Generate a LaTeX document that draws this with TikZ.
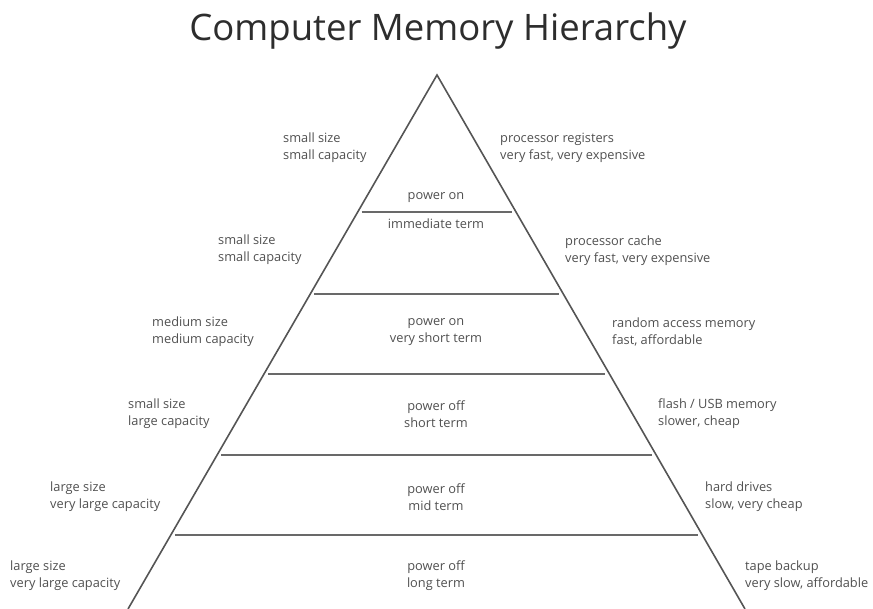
\documentclass[tikz,border=0pt]{standalone}
\usepackage{fontspec}
\setmainfont{Open Sans}
\usetikzlibrary{calc}
\definecolor{txt}{RGB}{80,80,80}
\definecolor{ttl}{RGB}{45,45,45}
\definecolor{side}{RGB}{85,85,85}
\definecolor{tierc}{RGB}{105,105,105}
\tikzset{
  lbl/.style={text=txt, font=\fontsize{12.8}{17}\selectfont, inner sep=0pt},
  lleft/.style={lbl, align=left, anchor=west},
  lmid/.style={lbl, align=center, anchor=center},
  sideline/.style={draw=side, line width=1.6pt},
  tier/.style={draw=tierc, line width=2.8pt, shorten <=4pt, shorten >=4pt},
}
\begin{document}
\begin{tikzpicture}[x=1pt,y=-1pt]
\useasboundingbox (0,0) rectangle (873,609);
\node[text=ttl, font=\fontsize{36.5}{40}\selectfont, inner sep=0pt] (title) at (438,31) {Computer Memory Hierarchy};
\coordinate (A) at (437,75);
\coordinate (BL) at (128,609);
\coordinate (BR) at (745,609);
\draw[sideline, line join=miter] (BL) -- (A) -- (BR);
\foreach \i/\f in {1/0.2566,2/0.4101,3/0.5599,4/0.7116,5/0.8614}{
  \coordinate (L\i) at ($(A)!\f!(BL)$);
  \coordinate (R\i) at ($(A)!\f!(BR)$);
  \draw[tier] (L\i) -- (R\i);
}
% row 1
\node[lleft] (l1) at (283,148) {small size\\small capacity};
\node[lleft] (r1) at (500,148) {processor registers\\very fast, very expensive};
\node[lbl] (c1a) at (436,198) {power on};
\node[lbl] (c1b) at (436,224) {immediate term};
% row 2
\node[lleft] (l2) at (218,250) {small size\\small capacity};
\node[lleft] (r2) at (565,251) {processor cache\\very fast, very expensive};
% row 3
\node[lleft] (l3) at (152,332) {medium size\\medium capacity};
\node[lmid] (c3) at (436,332) {power on\\very short term};
\node[lleft] (r3) at (612,332) {random access memory\\fast, affordable};
% row 4
\node[lleft] (l4) at (128,414) {small size\\large capacity};
\node[lmid] (c4) at (436,414) {power off\\short term};
\node[lleft] (r4) at (658,414) {flash / USB memory\\slower, cheap};
% row 5
\node[lleft] (l5) at (50,497) {large size\\very large capacity};
\node[lmid] (c5) at (436,497) {power off\\mid term};
\node[lleft] (r5) at (705,497) {hard drives\\slow, very cheap};
% row 6
\node[lleft] (l6) at (10,576) {large size\\very large capacity};
\node[lmid] (c6) at (436,576) {power off\\long term};
\node[lleft] (r6) at (745,576) {tape backup\\very slow, affordable};
\end{tikzpicture}
\end{document}
